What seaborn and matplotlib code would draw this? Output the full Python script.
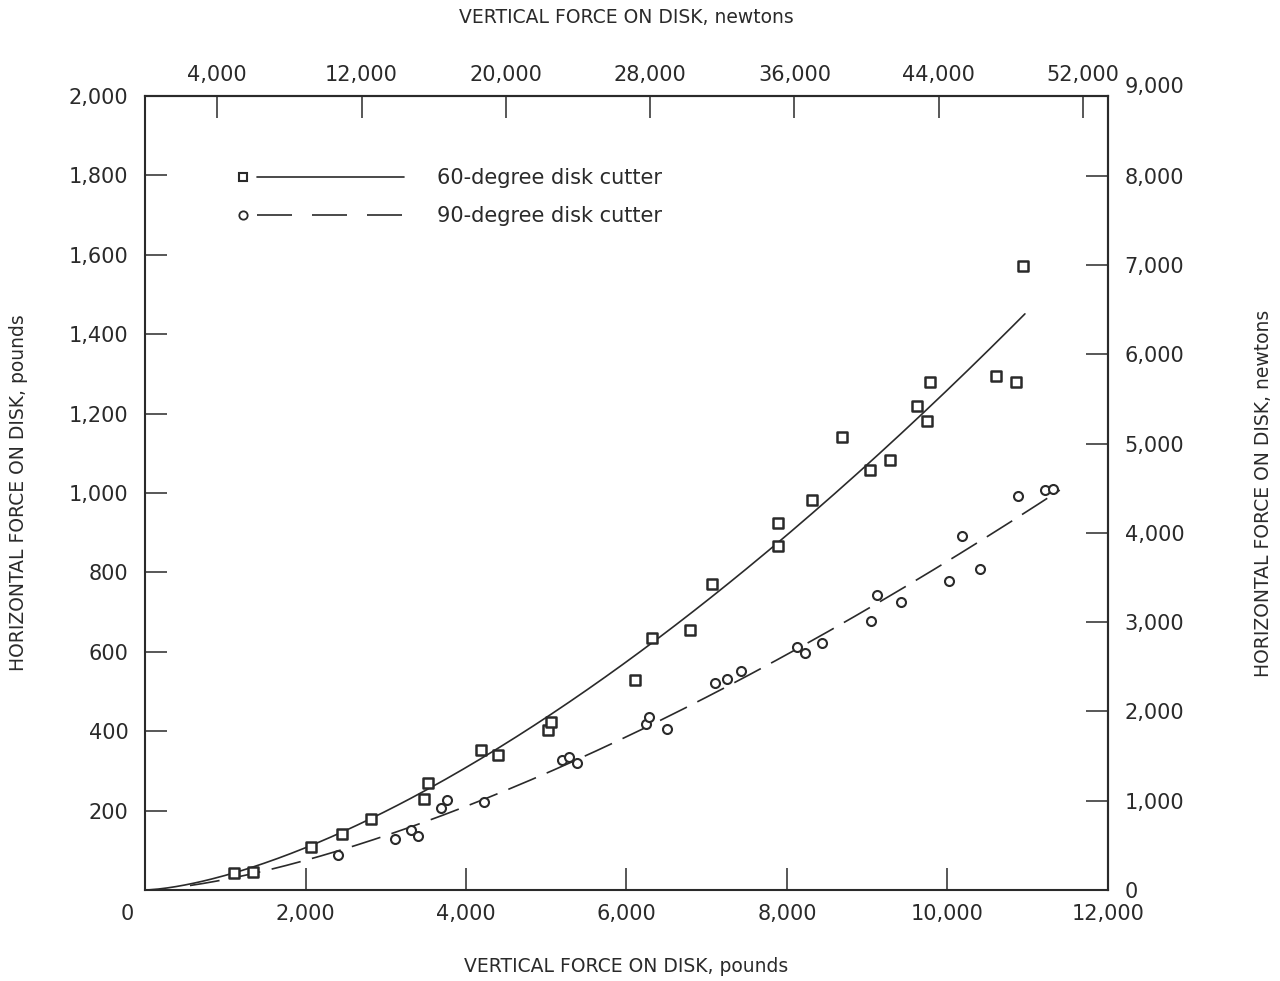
import numpy as np
import pandas as pd
import matplotlib
matplotlib.use("Agg")
import matplotlib.pyplot as plt
from matplotlib.lines import Line2D
from matplotlib.legend_handler import HandlerBase
import seaborn as sns

# Measured forces, pounds
sq_x = [1110, 1350, 2070, 2455, 2815, 3475, 3530, 4185, 4400, 5020, 5060, 6105,
        6320, 6790, 7065, 7890, 7890, 8310, 8685, 9035, 9285, 9620, 9745, 9780,
        10605, 10855, 10940]
sq_y = [43, 45, 108, 141, 179, 229, 270, 353, 340, 403, 423, 529, 635, 655, 771,
        924, 866, 982, 1141, 1058, 1083, 1219, 1181, 1280, 1295, 1280, 1572]

ci_x = [2405, 3115, 3315, 3400, 3690, 3765, 4225, 5195, 5285, 5385, 6245, 6280,
        6505, 7105, 7250, 7425, 8125, 8225, 8435, 9045, 9120, 9420, 10020, 10180,
        10405, 10880, 11215, 11315]
ci_y = [88, 128, 151, 136, 207, 227, 222, 327, 335, 320, 418, 436, 406, 521, 531,
        552, 612, 597, 622, 678, 743, 725, 778, 892, 809, 992, 1008, 1010]

# Span of each fitted curve, pounds
fit_span_60 = (0, 10965)
fit_span_90 = (560, 11400)

series_labels = ["60-degree disk cutter", "90-degree disk cutter"]

x_ticks_lb = [2000, 4000, 6000, 8000, 10000, 12000]
y_ticks_lb = [200, 400, 600, 800, 1000, 1200, 1400, 1600, 1800, 2000]
top_ticks_n = [4000, 12000, 20000, 28000, 36000, 44000, 52000]
right_ticks_n = [0, 1000, 2000, 3000, 4000, 5000, 6000, 7000, 8000]

LB_TO_N = 4.448
INK = "#2a2a2a"

sns.set_theme(style="ticks")
plt.rcParams["font.family"] = ["DejaVu Sans"]
plt.rcParams["text.color"] = INK
plt.rcParams["axes.labelcolor"] = INK


def power_fit(x, y, span, n=200):
    """Least-squares fit of y = a * x**b through the origin."""
    x = np.asarray(x, float)
    y = np.asarray(y, float)
    best = None
    for b in np.linspace(1.0, 2.0, 2001):
        xb = x ** b
        a = np.sum(y * xb) / np.sum(xb * xb)
        sse = np.sum((y - a * xb) ** 2)
        if best is None or sse < best[0]:
            best = (sse, a, b)
    _, a, b = best
    xs = np.linspace(span[0], span[1], n)
    return pd.DataFrame({"x": xs, "y": a * xs ** b})


fig, ax = plt.subplots(figsize=(12.8, 9.81), dpi=100)
fig.subplots_adjust(left=0.1133, right=0.8656, bottom=0.0928, top=0.9021)

df60 = pd.DataFrame({"x": sq_x, "y": sq_y})
df90 = pd.DataFrame({"x": ci_x, "y": ci_y})
curve60 = power_fit(sq_x, sq_y, fit_span_60)
curve90 = power_fit(ci_x, ci_y, fit_span_90)

DASH = (18, 7)
sns.lineplot(data=curve60, x="x", y="y", ax=ax, color=INK, lw=1.2, sort=False)
sns.lineplot(data=curve90, x="x", y="y", ax=ax, color=INK, lw=1.2, sort=False,
             dashes=False, linestyle=(0, DASH))
sns.scatterplot(data=df60, x="x", y="y", ax=ax, marker="s", s=46,
                facecolor="white", edgecolor=INK, linewidth=1.8, zorder=3)
sns.scatterplot(data=df90, x="x", y="y", ax=ax, marker="o", s=42,
                facecolor="white", edgecolor=INK, linewidth=1.5, zorder=3)

ax.set_xlim(0, 12000)
ax.set_ylim(0, 2000)

for sp in ax.spines.values():
    sp.set_visible(True)
    sp.set_linewidth(1.5)
    sp.set_color(INK)

TICK_KW = dict(direction="in", length=16, width=1.1, color=INK, labelsize=15,
               labelcolor=INK)
ax.set_xticks(x_ticks_lb)
ax.set_xticklabels([f"{v:,}" for v in x_ticks_lb])
ax.set_yticks(y_ticks_lb)
ax.set_yticklabels([f"{v:,}" for v in y_ticks_lb])
ax.tick_params(axis="x", pad=10, **TICK_KW)
ax.tick_params(axis="y", pad=12, **TICK_KW)
ax.annotate("0", xy=(0, 0), xycoords="data", xytext=(-13, -10),
            textcoords="offset points", ha="center", va="top", fontsize=15,
            color=INK, annotation_clip=False)

ax.set_xlabel("VERTICAL FORCE ON DISK, pounds", fontsize=13.5, labelpad=24)
ax.set_ylabel("HORIZONTAL FORCE ON DISK, pounds", fontsize=13.5, labelpad=29)

# Metric scales
top = ax.secondary_xaxis("top", functions=(lambda v: v * LB_TO_N,
                                           lambda v: v / LB_TO_N))
top.set_xticks(top_ticks_n)
top.set_xticklabels([f"{v:,}" for v in top_ticks_n])
top.tick_params(axis="x", pad=8, **TICK_KW)
top.spines["top"].set_linewidth(1.5)
top.set_xlabel("VERTICAL FORCE ON DISK, newtons", fontsize=13.5, labelpad=30)

right = ax.secondary_yaxis("right", functions=(lambda v: v * LB_TO_N,
                                               lambda v: v / LB_TO_N))
right.set_yticks(right_ticks_n)
right.set_yticklabels([f"{v:,}" for v in right_ticks_n])
right.tick_params(axis="y", pad=12, **TICK_KW)
right.spines["right"].set_linewidth(1.5)
right.set_ylabel("HORIZONTAL FORCE ON DISK, newtons", fontsize=13.5,
                 labelpad=50, rotation=90)
ax.annotate("9,000", xy=(1.0, 9000 / LB_TO_N), xycoords=("axes fraction", "data"),
            xytext=(12, 0), textcoords="offset points", ha="left", va="center",
            fontsize=15, color=INK, annotation_clip=False)


class MarkerThenLine(HandlerBase):
    def create_artists(self, legend, orig_handle, xdescent, ydescent, width,
                       height, fontsize, trans):
        marker, ls, ms, mew = orig_handle
        y = height / 2 - ydescent
        x0 = -xdescent
        m = Line2D([x0 + 4], [y], marker=marker, ms=ms, mew=mew, mfc="white",
                   mec=INK, ls="none", transform=trans)
        ln = Line2D([x0 + 14, x0 + width], [y, y], color=INK, lw=1.2,
                    linestyle=ls, transform=trans)
        return [m, ln]


handles = [("s", "-", 6.2, 1.5), ("o", (0, (21, 12)), 6.0, 1.3)]
ax.legend(handles, series_labels, handler_map={tuple: MarkerThenLine()},
          loc="upper left", bbox_to_anchor=(0.0855, 0.922), frameon=False,
          fontsize=15, handlelength=8.0, handletextpad=1.55, labelspacing=0.85,
          borderpad=0)

fig.savefig("out.png", dpi=100)
